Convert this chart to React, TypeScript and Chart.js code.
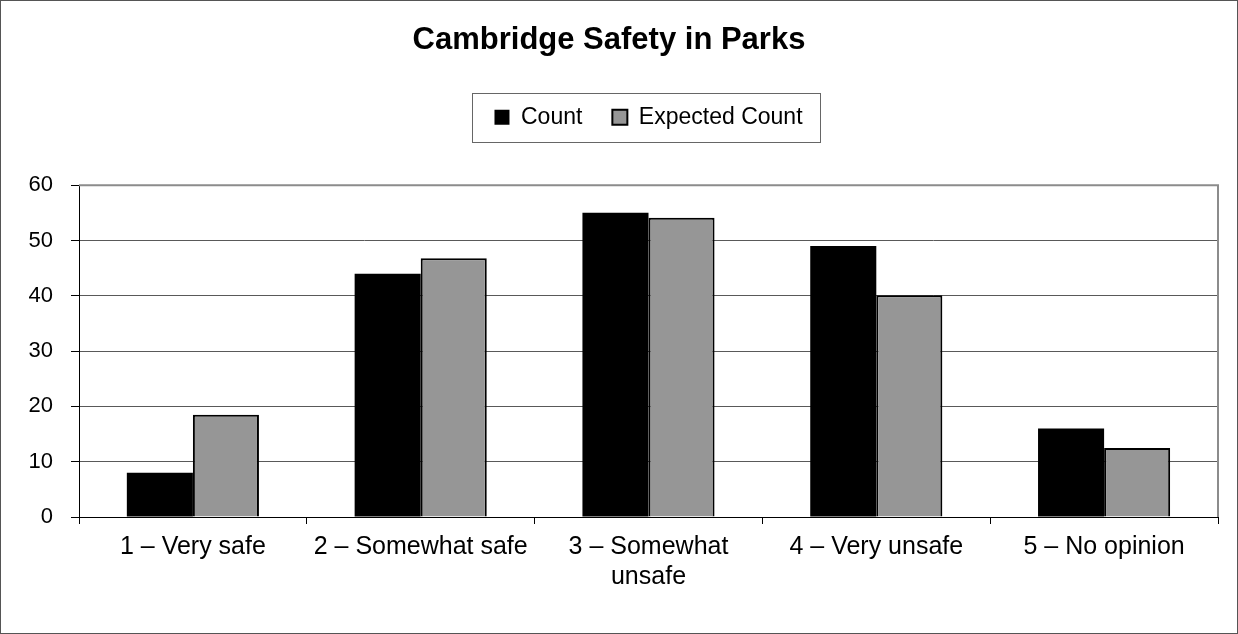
import React, { useEffect, useRef } from "react";
import { Chart, registerables } from "chart.js";

Chart.register(...registerables);

const categories: (string | string[])[] = [
  "1 – Very safe",
  "2 – Somewhat safe",
  ["3 – Somewhat", "      unsafe      "],
  "4 – Very unsafe",
  "5 – No opinion",
];
const countValues = [8, 44, 55, 49, 16];
const expectedValues = [18.5, 46.8, 54.1, 40.1, 12.5];
const titleText = "Cambridge Safety in Parks";
const seriesNames = ["Count", "Expected Count"];

const FONT = "'Liberation Sans', Arial, sans-serif";

const framePlugin = {
  id: "frame",
  afterDraw(chart: any) {
    const { ctx, chartArea } = chart;
    const { left, top, right, bottom } = chartArea;
    ctx.save();
    // plot top + right border
    ctx.strokeStyle = "#8c8c8c";
    ctx.lineWidth = 2;
    ctx.beginPath();
    ctx.moveTo(left, top);
    ctx.lineTo(right, top);
    ctx.lineTo(right, bottom);
    ctx.stroke();
    // legend frame
    const lg = chart.legend;
    if (lg && lg.legendHitBoxes && lg.legendHitBoxes.length) {
      const hb = lg.legendHitBoxes;
      const minX = Math.min(...hb.map((b: any) => b.left));
      const maxX = Math.max(...hb.map((b: any) => b.left + b.width));
      const minY = Math.min(...hb.map((b: any) => b.top));
      const maxY = Math.max(...hb.map((b: any) => b.top + b.height));
      const cy = (minY + maxY) / 2;
      ctx.strokeStyle = "#666";
      ctx.lineWidth = 1;
      ctx.strokeRect(
        Math.round(minX - 22) + 0.5,
        Math.round(cy - 24.5) + 0.5,
        Math.round(maxX - minX + 40),
        49
      );
    }
    // outer frame
    ctx.strokeStyle = "#555";
    ctx.lineWidth = 1;
    ctx.strokeRect(0.5, 0.5, chart.width - 1, chart.height - 1);
    ctx.restore();
  },
};

export default function App() {
  const ref = useRef<HTMLCanvasElement | null>(null);

  useEffect(() => {
    if (!ref.current) return;
    const chart = new Chart(ref.current, {
      type: "bar",
      data: {
        labels: categories,
        datasets: [
          {
            label: seriesNames[0],
            data: countValues,
            backgroundColor: "#000000",
            borderColor: "#000000",
            borderWidth: 0,
          },
          {
            label: seriesNames[1],
            data: expectedValues,
            backgroundColor: "#969696",
            borderColor: "#000000",
            borderWidth: 2,
          },
        ],
      },
      options: {
        responsive: false,
        animation: false,
        layout: { padding: { top: 0, right: 20, bottom: 0, left: 0 } },
        datasets: {
          bar: { categoryPercentage: 0.58, barPercentage: 1 },
        },
        plugins: {
          title: {
            display: true,
            text: titleText,
            color: "#000",
            font: { family: FONT, size: 31, weight: "bold", lineHeight: 1.2 },
            padding: { top: 22, bottom: 16.5 },
          },
          legend: {
            display: true,
            position: "top",
            fullSize: false,
            labels: {
              color: "#000",
              font: { family: FONT, size: 23 },
              boxWidth: 15,
              boxHeight: 15,
              padding: 30,
            },
          },
          subtitle: {
            display: true,
            text: "",
            weight: 500,
            font: { family: FONT, size: 10, lineHeight: 1 },
            padding: { top: 36.5, bottom: 0 },
          } as any,
          tooltip: { enabled: false },
        },
        scales: {
          x: {
            grid: {
              offset: true,
              drawOnChartArea: false,
              drawTicks: true,
              tickLength: 7,
              color: "#000",
            },
            border: { color: "#000", width: 1 },
            ticks: {
              color: "#000",
              font: { family: FONT, size: 25, lineHeight: 1.2 },
              padding: 8,
              maxRotation: 0,
              autoSkip: false,
            },
            afterFit: (scale: any) => {
              scale.height = 117;
            },
          },
          y: {
            min: 0,
            max: 60,
            grid: {
              color: (c: any) => (c.tick && c.tick.value === 60 ? "#8c8c8c" : "#595959"),
              lineWidth: 1,
              tickLength: 8,
              tickColor: "#000",
            },
            border: { color: "#000", width: 1 },
            ticks: {
              stepSize: 10,
              color: "#000",
              font: { family: FONT, size: 22 },
              padding: 18,
            },
            afterFit: (scale: any) => {
              scale.width = 79;
            },
          },
        },
      },
      plugins: [framePlugin],
    });
    return () => chart.destroy();
  }, []);

  return (
    <div style={{ position: "fixed", left: 0, top: 0, width: 1238, height: 634, background: "#fff" }}>
      <canvas ref={ref} width={1238} height={634} style={{ display: "block" }} />
    </div>
  );
}
